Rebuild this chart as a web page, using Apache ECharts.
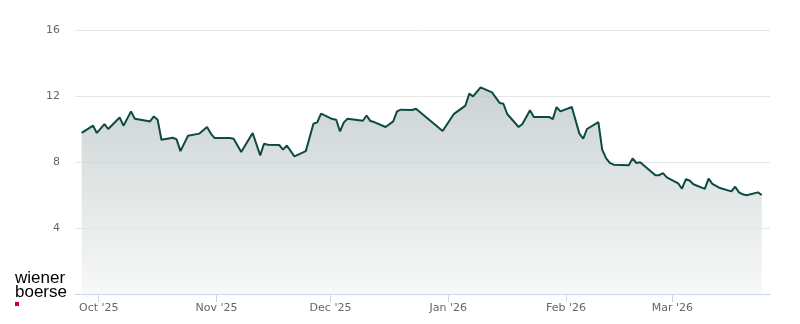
<!DOCTYPE html>
<html><head><meta charset="utf-8">
<script src="https://cdn.jsdelivr.net/npm/echarts@6/dist/echarts.min.js"></script>
<style>html,body{margin:0;padding:0;background:#fff}#c{width:800px;height:324px}</style>
</head><body><div id="c"></div>
<script>
// Trading days (vertices of the drawn line) and closing prices
const dates = [
 '2025-09-26','2025-09-29','2025-09-30','2025-10-02','2025-10-03','2025-10-06','2025-10-07','2025-10-09','2025-10-10',
 '2025-10-13','2025-10-14','2025-10-15','2025-10-16','2025-10-17','2025-10-20','2025-10-21','2025-10-22','2025-10-24',
 '2025-10-27','2025-10-29','2025-10-30','2025-10-31','2025-11-04','2025-11-05','2025-11-07','2025-11-10','2025-11-12',
 '2025-11-13','2025-11-14','2025-11-17','2025-11-18','2025-11-19','2025-11-21','2025-11-24','2025-11-26','2025-11-27',
 '2025-11-28','2025-12-01','2025-12-02','2025-12-03','2025-12-04','2025-12-05','2025-12-09','2025-12-10','2025-12-11',
 '2025-12-12','2025-12-15','2025-12-17','2025-12-18','2025-12-19','2025-12-22','2025-12-23','2025-12-30','2026-01-02',
 '2026-01-05','2026-01-06','2026-01-07','2026-01-09','2026-01-12','2026-01-14','2026-01-15','2026-01-16','2026-01-19',
 '2026-01-20','2026-01-22','2026-01-23','2026-01-27','2026-01-28','2026-01-29','2026-01-30','2026-02-02','2026-02-04',
 '2026-02-05','2026-02-06','2026-02-09','2026-02-10','2026-02-11','2026-02-12','2026-02-13','2026-02-17','2026-02-18',
 '2026-02-19','2026-02-20','2026-02-24','2026-02-25','2026-02-26','2026-02-27','2026-03-02','2026-03-03','2026-03-04',
 '2026-03-05','2026-03-06','2026-03-09','2026-03-10','2026-03-11','2026-03-13','2026-03-16','2026-03-17','2026-03-18',
 '2026-03-19','2026-03-20','2026-03-23','2026-03-24'
];
const prices = [
 9.76,10.2,9.76,10.3,10.0,10.7,10.2,11.07,10.62,
 10.5,10.46,10.76,10.56,9.35,9.47,9.37,8.66,9.59,
 9.72,10.12,9.72,9.45,9.45,9.41,8.61,9.76,8.4,
 9.11,9.05,9.03,8.75,9.0,8.34,8.66,10.32,10.4,
 10.93,10.6,10.56,9.85,10.4,10.62,10.5,10.82,10.48,
 10.42,10.12,10.46,11.07,11.17,11.15,11.23,9.88,10.92,
 11.42,12.14,11.98,12.52,12.22,11.58,11.53,10.91,10.12,
 10.3,11.13,10.73,10.73,10.6,11.33,11.07,11.33,9.72,
 9.41,10.0,10.42,8.75,8.24,7.95,7.84,7.8,8.22,
 7.94,7.98,7.19,7.2,7.33,7.07,6.7,6.38,6.95,
 6.88,6.65,6.37,6.99,6.68,6.42,6.22,6.5,6.16,
 6.04,5.98,6.16,6.0
];
const monthTicks = ['2025-10-01','2025-11-01','2025-12-01','2026-01-01','2026-02-01','2026-03-01'];
const monthLabels = ["Oct '25","Nov '25","Dec '25","Jan '26","Feb '26","Mar '26"];
const yTicks = [0, 4, 8, 12, 16];

function ts(s, h) { const p = s.split('-').map(Number); return new Date(p[0], p[1]-1, p[2], h || 0).getTime(); }
const tickTs = monthTicks.map(s => ts(s));
const seriesData = dates.map((d, i) => [ts(d, 12), prices[i]]);

const chart = echarts.init(document.getElementById('c'), null, {renderer: 'canvas'});
chart.setOption({
  animation: false,
  backgroundColor: '#ffffff',
  grid: {left: 75, right: 30, top: 30, bottom: 30},
  xAxis: {
    type: 'value',
    min: ts('2025-09-24', 18),
    max: ts('2026-03-26', 16),
    axisLine: {show: true, lineStyle: {color: '#ccd6eb', width: 1}},
    axisTick: {show: true, length: 8, lineStyle: {color: '#ccd6eb'}, customValues: tickTs},
    axisLabel: {
      customValues: tickTs,
      margin: 9,
      color: '#666666', fontFamily: 'DejaVu Sans', fontSize: 11,
      formatter: v => { const i = tickTs.indexOf(+v); return i >= 0 ? monthLabels[i] : ''; }
    },
    splitLine: {show: false}
  },
  yAxis: {
    type: 'value',
    min: yTicks[0], max: yTicks[yTicks.length-1], interval: 4,
    axisLine: {show: false}, axisTick: {show: false},
    axisLabel: {margin: 15, color: '#666666', fontFamily: 'DejaVu Sans', fontSize: 11,
      formatter: v => v === 0 ? '' : String(v)},
    splitLine: {lineStyle: {color: '#e6e6e6', width: 1}}
  },
  series: [{
    type: 'line',
    data: seriesData,
    showSymbol: false,
    symbol: 'none',
    lineStyle: {color: '#0e4a44', width: 2},
    areaStyle: {
      color: new echarts.graphic.LinearGradient(0, 0, 0, 1, [
        {offset: 0, color: '#b4c0bf'},
        {offset: 1, color: '#f5f6f6'}
      ])
    }
  }],
  graphic: [
    {type: 'text', left: 15, top: 270, style: {text: 'wiener\nboerse', fill: '#000000',
      font: '17px "Liberation Sans", Arial, sans-serif', lineHeight: 14}},
    {type: 'rect', shape: {x: 15, y: 302, width: 4, height: 4}, style: {fill: '#d0021b'}}
  ]
});
</script>
</body></html>
